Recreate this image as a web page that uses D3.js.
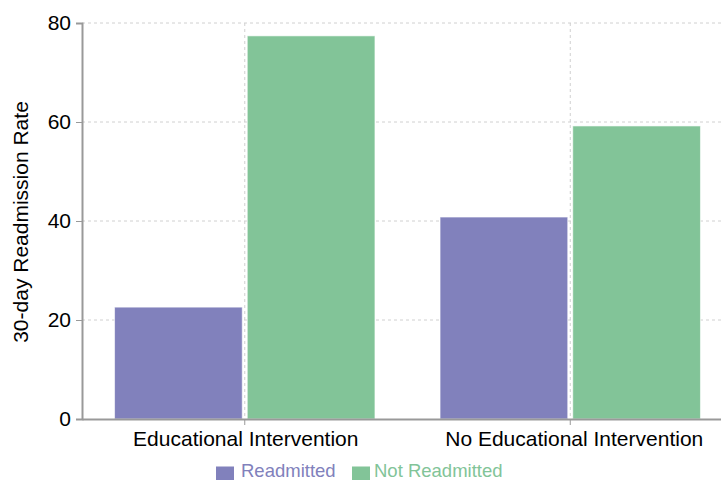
<!DOCTYPE html>
<html><head><meta charset="utf-8">
<script src="https://cdn.jsdelivr.net/npm/d3@7"></script>
<style>body{margin:0;background:#fff}svg{display:block;font-family:"Liberation Sans",Arial,sans-serif}</style>
</head><body><svg id="c" width="721" height="480"></svg>
<script>
const categories = ["Educational Intervention", "No Educational Intervention"];
const seriesNames = ["Readmitted", "Not Readmitted"];
const readmitted = [22.6, 40.8];
const notReadmitted = [77.4, 59.2];
const yTicks = [0, 20, 40, 60, 80];
const colors = ["#8181bc", "#82c498"];

const svg = d3.select("#c");
const m = {left: 82, top: 23, right: 733, bottom: 419};
const xc = d3.scaleBand().domain(categories).range([m.left, m.right]);
const y = d3.scaleLinear().domain([0, 80]).range([m.bottom, m.top]);
const FF = "Liberation Sans, Arial, sans-serif";

// grid
const g = svg.append("g");
g.selectAll(".hg").data(yTicks.slice(1)).join("line")
  .attr("x1", m.left).attr("x2", 721).attr("y1", d => y(d)).attr("y2", d => y(d))
  .attr("stroke", "#d0d0d0").attr("stroke-dasharray", "3 3");
g.selectAll(".vg").data(categories).join("line")
  .attr("x1", d => xc(d) + xc.bandwidth()/2).attr("x2", d => xc(d) + xc.bandwidth()/2)
  .attr("y1", m.top).attr("y2", m.bottom)
  .attr("stroke", "#d0d0d0").attr("stroke-dasharray", "3 3");

// bars
const data = [readmitted, notReadmitted];
seriesNames.forEach((s, si) => {
  svg.append("g").selectAll("rect").data(categories).join("rect")
    .attr("x", (d) => xc(d) + xc.bandwidth()*0.1 + (si === 0 ? 0 : xc.bandwidth()*0.8/2 + 2.5))
    .attr("width", xc.bandwidth()*0.8/2 - 2.5)
    .attr("y", (d, i) => y(data[si][i]))
    .attr("height", (d, i) => y(0) - y(data[si][i]))
    .attr("fill", colors[si]).attr("stroke", "#fff").attr("stroke-opacity", 0.6);
});

// y axis
const ya = svg.append("g").attr("transform", `translate(${m.left},0)`)
  .call(d3.axisLeft(y).tickValues(yTicks).tickSize(6).tickPadding(5));
ya.select(".domain").attr("stroke", "#999").attr("stroke-width", 2);
ya.selectAll(".tick line").attr("stroke", "#999");
ya.selectAll("text").attr("font-size", 21).attr("fill", "#000").attr("font-family", FF);

// x axis
const xa = svg.append("g").attr("transform", `translate(0,${m.bottom})`)
  .call(d3.axisBottom(xc).tickSize(6).tickPadding(6).tickSizeOuter(0));
xa.select(".domain").attr("stroke", "#999").attr("stroke-width", 2);
xa.selectAll(".tick line").attr("stroke", "#999");
xa.selectAll("text").attr("font-size", 21).attr("fill", "#000").attr("font-family", FF)
  .attr("dx", (d, i) => i === 1 ? 4 : 1);

// y title
svg.append("text").attr("transform", "translate(28,222) rotate(-90)")
  .attr("text-anchor", "middle").attr("font-size", 21).attr("fill", "#000")
  .text("30-day Readmission Rate");

// legend
const legendX = [216, 352];
const textX = [241, 374];
const lg = svg.append("g");
seriesNames.forEach((s, i) => {
  lg.append("rect").attr("x", legendX[i]).attr("y", 466.5).attr("width", 18).attr("height", 18).attr("fill", colors[i]);
  lg.append("text").attr("x", textX[i]).attr("y", 477).attr("font-size", 18.5).attr("fill", colors[i]).text(s);
});
</script></body></html>
